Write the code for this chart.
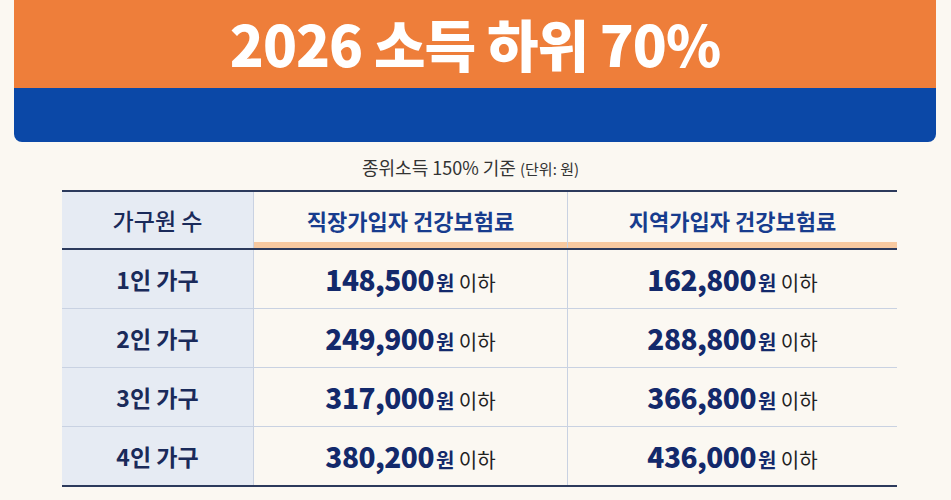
<!DOCTYPE html>
<html><head><meta charset="utf-8">
<script src="https://cdn.jsdelivr.net/npm/chart.js@4"></script>
<style>
body{margin:0;width:951px;height:500px;background:#fbf8f2;font-family:"Noto Sans CJK KR","Noto Sans",sans-serif;overflow:hidden;position:relative;color:#1c2f6e}
#banner{position:absolute;left:14px;top:0;width:922px;height:142px;border-radius:0 0 8px 8px;overflow:hidden}
#orange{height:88px;background:#ee7e3a;color:#fff;font-weight:900;font-size:56px;text-align:center;line-height:86px;letter-spacing:-1px}
#blue{height:54px;background:#0b48a7}
#sub{position:absolute;top:154px;left:0;width:941px;text-align:center;font-size:18px;color:#333}
#sub small{font-size:15px}
table{position:absolute;left:62px;top:190px;width:835px;border-collapse:collapse;table-layout:fixed}
td,th{height:58px;text-align:center;padding:0;border-bottom:1px solid #c9d2e2}
th{font-size:22px;font-weight:700;border-top:2px solid #2c3a5c;border-bottom:2px solid #2c3a5c;height:56px}
th.c{color:#173c8e;box-shadow:inset 0 -6px 0 #f7c9a0}
td.h,th.h{background:#e6ebf3;font-size:23px;font-weight:700;width:191px;color:#1a2a5a}
th.h{font-weight:500}
th.c1{width:313px}
td+td,th+th{border-left:1px solid #c9d2e2}
td.v b{font-size:28px;font-weight:800;color:#13296b;letter-spacing:-0.5px}
td.v span{font-size:20px;color:#222;margin-left:2px}
td.v span i{font-style:normal;font-weight:700;color:#13296b}
tr:last-child td{border-bottom:2px solid #2c3a5c}
</style></head><body>
<div id="banner"><div id="orange">2026 소득 하위 70%</div><div id="blue"></div></div>
<div id="sub">종위소득 150% 기준 <small>(단위: 원)</small></div>
<table id="t"></table>
<script>
const headers = ["가구원 수", "직장가입자 건강보험료", "지역가입자 건강보험료"];
const households = ["1인 가구", "2인 가구", "3인 가구", "4인 가구"];
const workplace = [148500, 249900, 317000, 380200];
const regional = [162800, 288800, 366800, 436000];
const unit = "원";
const suffix = "이하";

const t = document.getElementById("t");
let html = "<tr>" + headers.map((h, i) => `<th class="${i ? 'c c' + i : 'h'}">${h}</th>`).join("") + "</tr>";
households.forEach((h, i) => {
    html += `<tr><td class="h">${h}</td>` +
        [workplace[i], regional[i]].map(v => `<td class="v"><b>${v.toLocaleString("en-US")}</b><span><i>${unit}</i> ${suffix}</span></td>`).join("") +
        "</tr>";
});
t.innerHTML = html;
</script>
</body></html>
